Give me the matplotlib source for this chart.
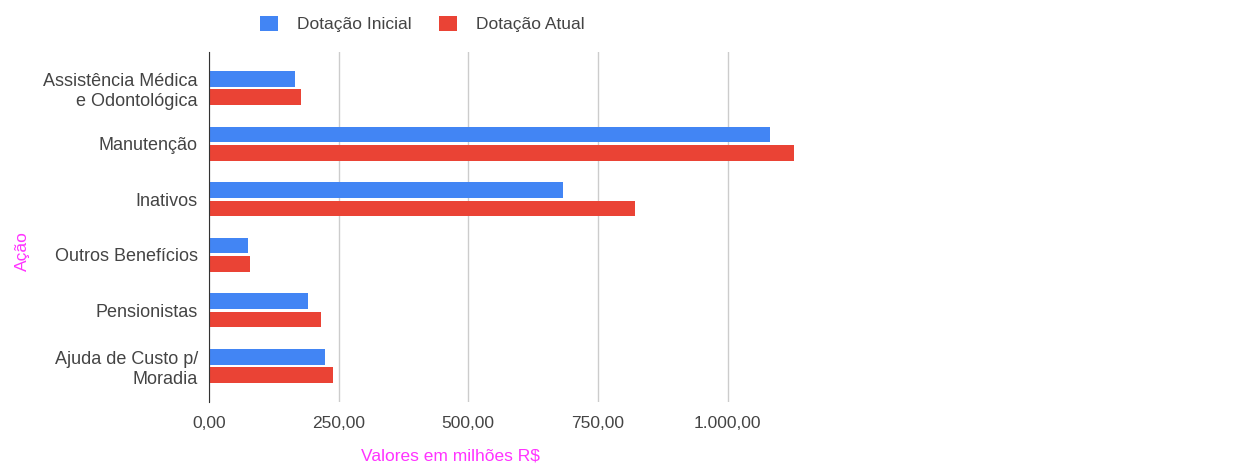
import matplotlib.pyplot as plt
import numpy as np
from matplotlib.ticker import FuncFormatter

categorias = ["Assistência Médica\ne Odontológica", "Manutenção", "Inativos",
              "Outros Benefícios", "Pensionistas", "Ajuda de Custo p/\nMoradia"]
dotacao_inicial = [166, 1081, 683, 75, 191, 224]
dotacao_atual = [178, 1129, 822, 79, 216, 239]
x_ticks = [0, 250, 500, 750, 1000]

AZUL = "#4285F4"
VERMELHO = "#EA4335"
TEXTO = "#444444"

plt.rcParams['font.family'] = ['Liberation Sans', 'DejaVu Sans']


def fmt_br(v, pos=None):
    s = f"{v:,.2f}"
    return s.replace(",", "X").replace(".", ",").replace("X", ".")


def main():
    fig = plt.figure(figsize=(12.55, 4.63), dpi=100)
    ax = fig.add_axes([0.1665, 0.1317, 0.5165, 0.756])

    y = np.arange(len(categorias))
    h = 0.28
    ax.barh(y - 0.165, dotacao_inicial, height=h, color=AZUL, label="Dotação Inicial", zorder=3)
    ax.barh(y + 0.165, dotacao_atual, height=h, color=VERMELHO, label="Dotação Atual", zorder=3)

    ax.set_ylim(5.65, -0.65)
    ax.set_xlim(0, 1250)
    ax.set_yticks(y)
    ax.set_yticklabels(categorias, color=TEXTO, fontsize=13, linespacing=1.2)
    ax.set_xticks(x_ticks)
    ax.xaxis.set_major_formatter(FuncFormatter(fmt_br))
    ax.tick_params(axis='x', colors=TEXTO, labelsize=12.5, length=0, pad=10)
    ax.tick_params(axis='y', length=0, pad=8)

    ax.grid(axis='x', color="#cccccc", linewidth=1, zorder=0)
    for s in ["top", "right", "bottom"]:
        ax.spines[s].set_visible(False)
    ax.spines["left"].set_color("#333333")
    ax.spines["left"].set_zorder(4)

    ax.set_xlabel("Valores em milhões R$", color="#ff33ff", fontsize=12.5)
    ax.xaxis.set_label_coords(0.372, -0.132)
    ax.set_ylabel("Ação", color="#ff33ff", fontsize=12.5)
    ax.yaxis.set_label_coords(-0.276, 0.43)

    fig.legend(loc="upper left", bbox_to_anchor=(0.195, 1.0), ncol=2, frameon=False,
               fontsize=12.5, handlelength=1.0, handleheight=1.0, handletextpad=1.1,
               columnspacing=1.6, labelcolor=TEXTO)

    fig.savefig("out.png", dpi=100, facecolor="white")


if __name__ == "__main__":
    main()
